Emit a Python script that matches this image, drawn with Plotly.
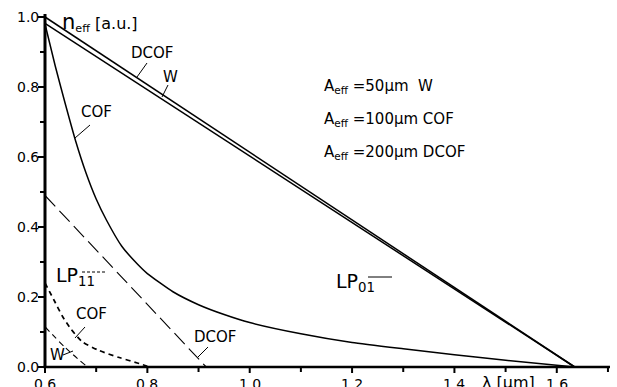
import plotly.graph_objects as go

# ---------------- data ----------------
lp01_dcof_x = [0.6, 1.635]
lp01_dcof_y = [1.0, 0.0]

lp01_w_x = [0.6, 1.635]
lp01_w_y = [0.982, 0.0]

lp01_cof_x = [0.6, 0.62, 0.64, 0.66, 0.68, 0.70, 0.72, 0.75, 0.78, 0.80, 0.85, 0.90, 0.95, 1.0,
              1.1, 1.2, 1.3, 1.4, 1.5, 1.635]
lp01_cof_y = [0.98, 0.86, 0.75, 0.645, 0.555, 0.48, 0.42, 0.345, 0.295, 0.267, 0.215, 0.178, 0.15, 0.127,
              0.095, 0.07, 0.052, 0.035, 0.019, 0.0]

lp11_dcof_x = [0.6, 0.915]
lp11_dcof_y = [0.49, 0.0]

lp11_cof_x = [0.6, 0.618, 0.634, 0.651, 0.673, 0.706, 0.745, 0.784, 0.804]
lp11_cof_y = [0.24, 0.19, 0.145, 0.108, 0.072, 0.047, 0.027, 0.010, 0.0]

lp11_w_x = [0.6, 0.64, 0.683]
lp11_w_y = [0.115, 0.055, 0.0]

x_tickvals = [0.6, 0.7, 0.8, 0.9, 1.0, 1.1, 1.2, 1.3, 1.4, 1.5, 1.6, 1.7]
x_ticktext = ["0.6", "", "0.8", "", "1.0", "", "1.2", "", "1.4", "", "1.6", ""]
y_tickvals = [0.0, 0.1, 0.2, 0.3, 0.4, 0.5, 0.6, 0.7, 0.8, 0.9, 1.0]
y_ticktext = ["0.0", "", "0.2", "", "0.4", "", "0.6", "", "0.8", "", "1.0"]

# ---------------- geometry ----------------
W, H = 617, 387
ML, MR, MT, MB = 45, 7, 17, 20          # where the drawn axes sit inside the page
PW, PH = W - ML - MR, H - MT - MB
XA = [0.6, 1.704]                        # visible axis extents
YA = [0.0, 1.0]
SX = (XA[1] - XA[0]) / PW                # data units per pixel
SY = (YA[1] - YA[0]) / PH
# plotting area covers the whole page so that axis decorations are inside it
XR = [XA[0] - ML * SX, XA[1] + MR * SX]
YR = [YA[0] - MB * SY, YA[1] + MT * SY]


def X(px):
    return XA[0] + (px - ML) * SX


def Y(py):
    return YA[0] + (H - MB - py) * SY


FONT = "DejaVu Sans"
BLACK = "black"
fig = go.Figure()

line_solid = dict(color=BLACK, width=1.5)
fig.add_trace(go.Scatter(x=lp01_dcof_x, y=lp01_dcof_y, mode="lines", line=line_solid))
fig.add_trace(go.Scatter(x=lp01_w_x, y=lp01_w_y, mode="lines", line=line_solid))
fig.add_trace(go.Scatter(x=lp01_cof_x, y=lp01_cof_y, mode="lines",
                         line=dict(color=BLACK, width=1.5, shape="spline", smoothing=0.5)))
fig.add_trace(go.Scatter(x=lp11_dcof_x, y=lp11_dcof_y, mode="lines",
                         line=dict(color=BLACK, width=1.1, dash="15px,6px")))
fig.add_trace(go.Scatter(x=lp11_cof_x, y=lp11_cof_y, mode="lines",
                         line=dict(color=BLACK, width=1.7, dash="5px,4px", shape="spline", smoothing=0.6)))
fig.add_trace(go.Scatter(x=lp11_w_x, y=lp11_w_y, mode="lines",
                         line=dict(color=BLACK, width=1.1, dash="6px,4px", shape="spline")))

# axis lines (as line traces)
fig.add_trace(go.Scatter(x=[XA[0], XA[0]], y=[YA[0] - 1 * SY, YA[1] + 3 * SY], mode="lines",
                         line=dict(color=BLACK, width=3), hoverinfo="skip"))
fig.add_trace(go.Scatter(x=[XA[0] - 1.5 * SX, XA[1]], y=[YA[0], YA[0]], mode="lines",
                         line=dict(color=BLACK, width=2.5), hoverinfo="skip"))

# ticks from the tick arrays (one trace per axis, segments separated by gaps)
tx, ty = [], []
for v, t in zip(x_tickvals, x_ticktext):
    ln = 6 if t else 5
    tx += [v, v, None]
    ty += [YA[0], YA[0] - ln * SY, None]
    if t:
        fig.add_annotation(x=v, y=YA[0], text=t, showarrow=False, xanchor="center",
                           yanchor="top", yshift=-7,
                           font=dict(family=FONT, size=14, color=BLACK))
fig.add_trace(go.Scatter(x=tx, y=ty, mode="lines", line=dict(color=BLACK, width=2),
                         hoverinfo="skip"))

ux, uy = [], []
for v, t in zip(y_tickvals, y_ticktext):
    ln = 7 if t else 5
    ux += [XA[0], XA[0] - ln * SX, None]
    uy += [v, v, None]
    if t:
        fig.add_annotation(x=XA[0], y=v, text=t, showarrow=False, xanchor="right",
                           yanchor="middle", xshift=-4,
                           font=dict(family=FONT, size=14, color=BLACK))
fig.add_trace(go.Scatter(x=ux, y=uy, mode="lines", line=dict(color=BLACK, width=2),
                         hoverinfo="skip"))

# leader lines and key lines (pixel positions of the labels)
leaders = [
    ((147, 63), (137, 77), "solid"),
    ((168, 85), (162, 97), "solid"),
    ((90, 125), (75, 138), "solid"),
    ((85, 327), (75, 338), "solid"),
    ((63, 355), (73, 351), "solid"),
    ((208, 347), (198, 357), "solid"),
    ((82, 272), (105, 272), "3px,2px"),
    ((368, 277), (392, 277), "solid"),
]
for (a, b, d) in leaders:
    fig.add_shape(type="line", x0=X(a[0]), y0=Y(a[1]), x1=X(b[0]), y1=Y(b[1]),
                  line=dict(color=BLACK, width=1, dash=d))


def label(text, px, py, size=15, xanchor="center"):
    fig.add_annotation(x=X(px), y=Y(py), text=text, showarrow=False,
                       xanchor=xanchor, yanchor="middle",
                       font=dict(family=FONT, size=size, color=BLACK))


label("DCOF", 152, 53)
label("W", 170, 77)
label("COF", 96, 112)
label("COF", 91, 314)
label("W", 57, 355)
label("DCOF", 215, 337)
label("LP<sub>11</sub>", 54, 276, size=19, xanchor="left")
label("LP<sub>01</sub>", 334, 282, size=19, xanchor="left")
label("<span style='font-size:21px'>n</span><sub>eff</sub> [a.u.]", 60, 22, size=16, xanchor="left")
label("A<sub>eff</sub> =50μm  W", 322, 86, size=15, xanchor="left")
label("A<sub>eff</sub> =100μm COF", 322, 119, size=15, xanchor="left")
label("A<sub>eff</sub> =200μm DCOF", 322, 152, size=15, xanchor="left")
label("λ [μm]", 508, 382, size=16)

fig.update_xaxes(range=XR, visible=False, showgrid=False, zeroline=False)
fig.update_yaxes(range=YR, visible=False, showgrid=False, zeroline=False)

fig.update_layout(
    template="none",
    width=W, height=H, showlegend=False,
    margin=dict(l=0, r=0, t=0, b=0, autoexpand=False),
    paper_bgcolor="white", plot_bgcolor="white",
    font=dict(family=FONT, color=BLACK),
)

fig.write_html("out.html")
